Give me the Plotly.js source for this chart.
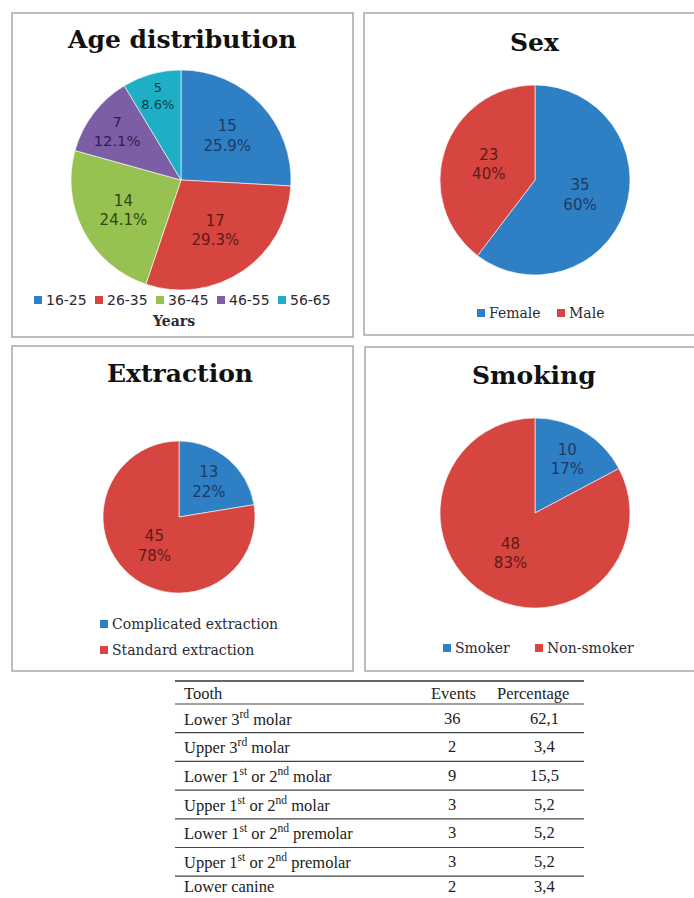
<!DOCTYPE html>
<html>
<head>
<meta charset="utf-8">
<script src="https://cdn.plot.ly/plotly-3.0.1.min.js"></script>
<style>html,body{margin:0;padding:0;background:#fff}#chart{width:694px;height:898px}</style>
</head>
<body>
<div id="chart"></div>
<script>
// ---- Data ----
const ageLabels = ["16-25", "26-35", "36-45", "46-55", "56-65"];
const ageValues = [15, 17, 14, 7, 5];
const sexLabels = ["Female", "Male"];
const sexValues = [35, 23];
const extractionLabels = ["Complicated extraction", "Standard extraction"];
const extractionValues = [13, 45];
const smokingLabels = ["Smoker", "Non-smoker"];
const smokingValues = [10, 48];

const toothNames = ["Lower 3<sup>rd</sup> molar", "Upper 3<sup>rd</sup> molar", "Lower 1<sup>st</sup> or 2<sup>nd</sup> molar",
  "Upper 1<sup>st</sup> or 2<sup>nd</sup> molar", "Lower 1<sup>st</sup> or 2<sup>nd</sup> premolar",
  "Upper 1<sup>st</sup> or 2<sup>nd</sup> premolar", "Lower canine"];
const toothEvents = ["36", "2", "9", "3", "3", "3", "2"];
const toothPercent = ["62,1", "3,4", "15,5", "5,2", "5,2", "5,2", "3,4"];
const tableHeader = ["Tooth", "Events", "Percentage"];

// ---- Styling ----
const W = 694, H = 898;
const C = {blue: "#2f7fc4", red: "#d6453f", green: "#97c150", purple: "#7b5ea3", cyan: "#1eafc6"};
const TC = {blue: "#1d3a66", red: "#5e1a17", green: "#2b4a12", purple: "#2e1f52", cyan: "#0c3d4c"};
const ageColors = [C.blue, C.red, C.green, C.purple, C.cyan];
const ageText = [TC.blue, TC.red, TC.green, TC.purple, TC.cyan];
const twoColors = [C.blue, C.red];
const twoText = [TC.blue, TC.red];

const px = x => x / W;
const py = y => 1 - y / H;
const dom = (cx, cy, r) => ({x: [px(cx - r), px(cx + r)], y: [py(cy + r), py(cy - r)]});

function pie(labels, values, colors, tcolors, domain, tmpl) {
  return {
    type: "pie", labels: labels, values: values, sort: false, direction: "clockwise", rotation: 0,
    domain: domain, marker: {colors: colors, line: {color: "rgba(255,255,255,0.6)", width: 1}},
    textinfo: "text", texttemplate: tmpl, textposition: "inside", insidetextorientation: "horizontal",
    textfont: {family: "DejaVu Sans", size: 15, color: tcolors}, showlegend: false, hoverinfo: "label+value+percent"
  };
}

const data = [
  pie(ageLabels, ageValues, ageColors, ageText, dom(181, 180, 110), "%{value}<br>%{percent:.1%}"),
  pie(sexLabels, sexValues, twoColors, twoText, dom(535, 180, 95), "%{value}<br>%{percent:.0%}"),
  pie(extractionLabels, extractionValues, twoColors, twoText, dom(179, 517, 76), "%{value}<br>%{percent:.0%}"),
  pie(smokingLabels, smokingValues, twoColors, twoText, dom(535, 513, 95), "%{value}<br>%{percent:.0%}")
];

const shapes = [];
const annotations = [];
const boxLine = {color: "#a8a8a8", width: 1.5};
[[12, 13, 353, 337], [364, 13, 700, 335], [12, 346, 353, 671], [365, 347, 700, 671]].forEach(b => {
  shapes.push({type: "rect", xref: "paper", yref: "paper", x0: px(b[0]), x1: px(b[2]), y0: py(b[3]), y1: py(b[1]), line: boxLine});
});

function title(text, x, y) {
  annotations.push({text: text, xref: "paper", yref: "paper", x: px(x), y: py(y), xanchor: "center", yanchor: "middle",
    showarrow: false, font: {family: "DejaVu Serif", size: 25, color: "#111", weight: "bold"}});
}
title("Age distribution", 181, 40);
title("Sex", 535, 42);
title("Extraction", 180, 374);
title("Smoking", 534, 375);

function legend(labels, colors, x0, y0, dx, dy, font) {
  labels.forEach((lab, i) => {
    const x = x0 + i * dx, y = y0 + i * dy;
    shapes.push({type: "rect", xref: "paper", yref: "paper", x0: px(x), x1: px(x + 8), y0: py(y + 4), y1: py(y - 4),
      fillcolor: colors[i], line: {width: 0}});
    annotations.push({text: lab, xref: "paper", yref: "paper", x: px(x + 10), y: py(y), xanchor: "left", yanchor: "middle",
      showarrow: false, font: font});
  });
}
const sansFont = {family: "DejaVu Sans", size: 14, color: "#2a2a35"};
const serifFont = {family: "DejaVu Serif", size: 14, color: "#2a2a35"};
legend(ageLabels, ageColors, 34, 300, 61, 0, sansFont);
annotations.push({text: "Years", xref: "paper", yref: "paper", x: px(173), y: py(321), xanchor: "center", yanchor: "middle",
  showarrow: false, font: {family: "DejaVu Serif", size: 14, color: "#2a2a35", weight: "bold"}});
legend(sexLabels, twoColors, 477, 313, 80, 0, serifFont);
legend(extractionLabels, twoColors, 100, 624, 0, 26, serifFont);
legend(smokingLabels, twoColors, 443, 648, 92, 0, serifFont);

// ---- Table ----
const tFont = {family: "Liberation Serif", size: 16.5, color: "#222"};
const tLeft = 175, tRight = 584;
const headY = 693, rowY0 = 718, rowPitch = 28.7;
shapes.push({type: "line", xref: "paper", yref: "paper", x0: px(tLeft), x1: px(tRight), y0: py(681), y1: py(681), line: {color: "#333", width: 1.6}});
shapes.push({type: "line", xref: "paper", yref: "paper", x0: px(tLeft), x1: px(tRight), y0: py(704), y1: py(704), line: {color: "#444", width: 1.2}});
annotations.push({text: tableHeader[0], xref: "paper", yref: "paper", x: px(182), y: py(headY), xanchor: "left", yanchor: "middle", showarrow: false, font: tFont});
annotations.push({text: tableHeader[1], xref: "paper", yref: "paper", x: px(453), y: py(headY), xanchor: "center", yanchor: "middle", showarrow: false, font: tFont});
annotations.push({text: tableHeader[2], xref: "paper", yref: "paper", x: px(533), y: py(headY), xanchor: "center", yanchor: "middle", showarrow: false, font: tFont});
toothNames.forEach((name, i) => {
  const y = Math.min(rowY0 + i * rowPitch, 886);
  annotations.push({text: name, xref: "paper", yref: "paper", x: px(182), y: py(y), xanchor: "left", yanchor: "middle", showarrow: false, font: tFont});
  annotations.push({text: toothEvents[i], xref: "paper", yref: "paper", x: px(452), y: py(y), xanchor: "center", yanchor: "middle", showarrow: false, font: tFont});
  annotations.push({text: toothPercent[i], xref: "paper", yref: "paper", x: px(544), y: py(y), xanchor: "center", yanchor: "middle", showarrow: false, font: tFont});
  if (i < toothNames.length - 1) {
    const ly = 704 + (i + 1) * rowPitch;
    shapes.push({type: "line", xref: "paper", yref: "paper", x0: px(tLeft), x1: px(tRight), y0: py(ly), y1: py(ly), line: {color: "#444", width: 1.2}});
  }
});

const layout = {
  width: W, height: H, margin: {l: 0, r: 0, t: 0, b: 0},
  paper_bgcolor: "#fff", plot_bgcolor: "#fff", showlegend: false,
  shapes: shapes, annotations: annotations
};
Plotly.newPlot("chart", data, layout, {displayModeBar: false, staticPlot: true});
</script>
</body>
</html>
